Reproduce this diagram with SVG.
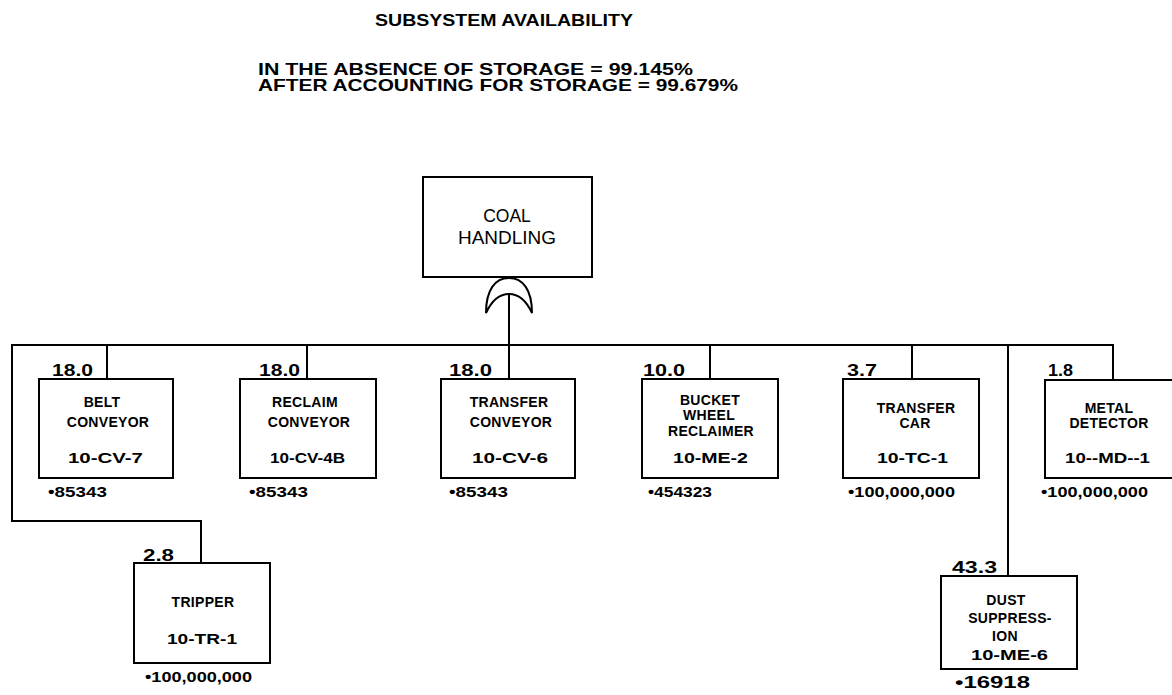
<svg xmlns="http://www.w3.org/2000/svg" width="1172" height="695" viewBox="0 0 1172 695">
  <style>
    text { font-family: "Liberation Sans", Arial, sans-serif; fill: #000; font-weight: bold; }
    .hd { font-size: 16.5px; }
    .lb { font-size: 14px; text-anchor: middle; letter-spacing: 0.3px; }
    .cd { font-size: 15px; }
    .nm { font-size: 16.5px; }
    .ft { font-size: 15px; }
    .box { fill: #fff; stroke: #000; stroke-width: 2; }
    .ln { fill: none; stroke: #000; stroke-width: 2; }
  </style>

  <rect width="1172" height="695" fill="#fff"/>

  <!-- header -->
  <g id="header">
    <text class="hd" x="375" y="26" textLength="258" lengthAdjust="spacingAndGlyphs">SUBSYSTEM  AVAILABILITY</text>
    <text class="hd" x="258" y="75" textLength="435" lengthAdjust="spacingAndGlyphs">IN THE ABSENCE OF STORAGE = 99.145%</text>
    <text class="hd" x="258" y="91" textLength="480" lengthAdjust="spacingAndGlyphs">AFTER ACCOUNTING FOR STORAGE = 99.679%</text>
  </g>

  <!-- connectors -->
  <g id="connectors">
    <path class="ln" d="M12,345 H1113 V380"/>
    <path class="ln" d="M509,295 V345"/>
    <path class="ln" d="M107,345 V379"/>
    <path class="ln" d="M307,345 V379"/>
    <path class="ln" d="M509,345 V379"/>
    <path class="ln" d="M710,345 V379"/>
    <path class="ln" d="M912,345 V379"/>
    <path class="ln" d="M1008,345 V576"/>
    <path class="ln" d="M12,344 V521 H201 V563"/>
  </g>

  <!-- top event with OR gate -->
  <g id="coal-handling">
    <rect class="box" x="423" y="177" width="169" height="100"/>
    <text x="507" y="222" text-anchor="middle" style="font-weight:normal;font-size:17.5px">COAL</text>
    <text x="507" y="244" text-anchor="middle" textLength="98" lengthAdjust="spacingAndGlyphs" style="font-weight:normal;font-size:17.5px">HANDLING</text>
    <path class="ln" d="M486,313 C486,290 495,278 509,278 C523,278 532,290 532,313 C526,300 518,294 509,294 C500,294 492,300 486,313 Z"/>
  </g>

  <g id="belt-conveyor">
    <rect class="box" x="39" y="379" width="134" height="99"/>
    <text class="nm" x="52" y="376" textLength="41" lengthAdjust="spacingAndGlyphs">18.0</text>
    <text class="lb" x="102" y="407">BELT</text>
    <text class="lb" x="108" y="427">CONVEYOR</text>
    <text class="cd" x="68" y="463" textLength="75" lengthAdjust="spacingAndGlyphs">10-CV-7</text>
    <text class="ft" x="48" y="497" textLength="59" lengthAdjust="spacingAndGlyphs">•85343</text>
  </g>

  <g id="reclaim-conveyor">
    <rect class="box" x="240" y="379" width="136" height="99"/>
    <text class="nm" x="259" y="376" textLength="41" lengthAdjust="spacingAndGlyphs">18.0</text>
    <text class="lb" x="305" y="407">RECLAIM</text>
    <text class="lb" x="309" y="427">CONVEYOR</text>
    <text class="cd" x="270" y="463" textLength="75" lengthAdjust="spacingAndGlyphs">10-CV-4B</text>
    <text class="ft" x="249" y="497" textLength="59" lengthAdjust="spacingAndGlyphs">•85343</text>
  </g>

  <g id="transfer-conveyor">
    <rect class="box" x="441" y="379" width="134" height="99"/>
    <text class="nm" x="449" y="376" textLength="43" lengthAdjust="spacingAndGlyphs">18.0</text>
    <text class="lb" x="509" y="407">TRANSFER</text>
    <text class="lb" x="511" y="427">CONVEYOR</text>
    <text class="cd" x="472" y="463" textLength="76" lengthAdjust="spacingAndGlyphs">10-CV-6</text>
    <text class="ft" x="449" y="497" textLength="59" lengthAdjust="spacingAndGlyphs">•85343</text>
  </g>

  <g id="bucket-wheel-reclaimer">
    <rect class="box" x="642" y="379" width="136" height="99"/>
    <text class="nm" x="643" y="376" textLength="42" lengthAdjust="spacingAndGlyphs">10.0</text>
    <text class="lb" x="710" y="405">BUCKET</text>
    <text class="lb" x="709" y="420">WHEEL</text>
    <text class="lb" x="711" y="436">RECLAIMER</text>
    <text class="cd" x="673" y="463" textLength="75" lengthAdjust="spacingAndGlyphs">10-ME-2</text>
    <text class="ft" x="648" y="497" textLength="64" lengthAdjust="spacingAndGlyphs">•454323</text>
  </g>

  <g id="transfer-car">
    <rect class="box" x="843" y="379" width="136" height="99"/>
    <text class="nm" x="847" y="376" textLength="30" lengthAdjust="spacingAndGlyphs">3.7</text>
    <text class="lb" x="916" y="413">TRANSFER</text>
    <text class="lb" x="915" y="428">CAR</text>
    <text class="cd" x="877" y="463" textLength="71" lengthAdjust="spacingAndGlyphs">10-TC-1</text>
    <text class="ft" x="848" y="497" textLength="107" lengthAdjust="spacingAndGlyphs">•100,000,000</text>
  </g>

  <g id="metal-detector">
    <rect class="box" x="1045" y="380" width="140" height="98"/>
    <text class="nm" x="1048" y="376" textLength="25" lengthAdjust="spacingAndGlyphs">1.8</text>
    <text class="lb" x="1109" y="413">METAL</text>
    <text class="lb" x="1109" y="428">DETECTOR</text>
    <text class="cd" x="1065" y="463" textLength="85" lengthAdjust="spacingAndGlyphs">10--MD--1</text>
    <text class="ft" x="1041" y="497" textLength="107" lengthAdjust="spacingAndGlyphs">•100,000,000</text>
  </g>

  <g id="tripper">
    <rect class="box" x="134" y="563" width="136" height="100"/>
    <text class="nm" x="143" y="561" textLength="31" lengthAdjust="spacingAndGlyphs">2.8</text>
    <text class="lb" x="203" y="607">TRIPPER</text>
    <text class="cd" x="167" y="644" textLength="70" lengthAdjust="spacingAndGlyphs">10-TR-1</text>
    <text class="ft" x="145" y="682" textLength="107" lengthAdjust="spacingAndGlyphs">•100,000,000</text>
  </g>

  <g id="dust-suppression">
    <rect class="box" x="941" y="576" width="136" height="93"/>
    <text class="nm" x="952" y="573" textLength="45" lengthAdjust="spacingAndGlyphs">43.3</text>
    <text class="lb" x="1006" y="605">DUST</text>
    <text class="lb" x="1010" y="623">SUPPRESS-</text>
    <text class="lb" x="1005" y="641">ION</text>
    <text class="cd" x="971" y="660" textLength="77" lengthAdjust="spacingAndGlyphs">10-ME-6</text>
    <text class="nm" x="955" y="688" textLength="75" lengthAdjust="spacingAndGlyphs">•16918</text>
  </g>
</svg>
